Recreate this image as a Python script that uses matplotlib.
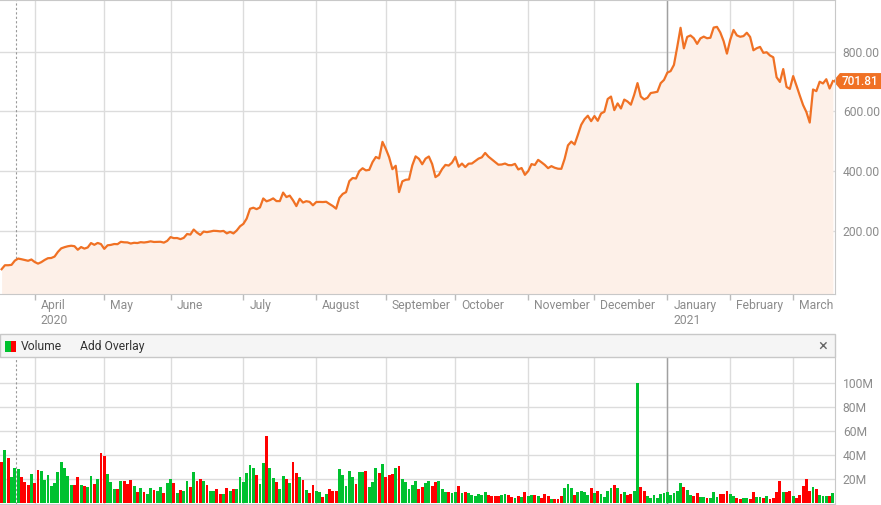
import numpy as np
import pandas as pd
import matplotlib
matplotlib.use("Agg")
import matplotlib.pyplot as plt
from matplotlib.patches import Rectangle, Polygon
from matplotlib.transforms import blended_transform_factory

plt.rcParams['font.family'] = ['Roboto', 'DejaVu Sans']

# trading days 2020-03-18 .. 2021-03-17
holidays = ['2020-04-10', '2020-05-25', '2020-07-03', '2020-09-07', '2020-11-26',
            '2020-12-25', '2021-01-01', '2021-01-18', '2021-02-15']
dates = pd.bdate_range('2020-03-18', '2021-03-17', freq='C', holidays=holidays)

# closing price, one value per trading day
close = [
    72.24, 85.53, 85.51, 86.86, 101.00, 107.85, 105.63, 102.87, 100.43, 104.80,
    96.31, 90.89, 96.00, 103.25, 109.09, 109.77, 114.60, 130.19, 141.98, 145.97, 149.04,
    150.78, 149.27, 137.34, 146.42, 141.13, 145.03, 159.75, 153.82, 160.10, 156.38,
    140.26, 152.24, 153.64, 156.52, 156.01, 163.88, 162.26, 161.88, 158.19, 160.67,
    159.83, 162.73, 161.60, 163.11, 165.52, 163.38, 163.77, 164.05, 161.16, 167.00,
    179.62, 176.31, 176.59, 172.88, 177.13, 189.98, 188.13, 205.01, 194.57, 187.06, 198.18,
    196.43, 198.36, 200.79, 200.18, 198.86, 200.36, 192.17, 197.20, 191.95, 201.87, 215.96,
    223.93, 241.73, 274.32, 277.97, 273.18, 278.86, 308.93, 299.41, 303.36, 309.20, 300.13,
    300.17, 328.60, 313.67, 318.47, 302.61, 283.40, 307.92, 295.30, 299.82, 297.50, 286.15,
    297.00, 297.40, 297.00, 297.92, 290.54, 283.71, 274.88, 310.95, 324.20, 330.14, 367.13,
    377.42, 375.71, 400.37, 409.99, 402.84, 404.67, 430.63, 447.75, 442.68, 498.32,
    475.05, 447.37, 407.00, 418.32, 330.21, 366.28, 371.34, 372.72, 419.62, 449.76, 441.76,
    423.43, 442.15, 449.39, 424.23, 380.36, 387.79, 407.34, 421.20, 419.07, 429.01,
    448.16, 415.09, 425.68, 413.98, 425.30, 425.92, 434.00, 442.30, 446.65, 461.30, 448.88,
    439.67, 430.83, 421.94, 422.64, 425.79, 420.63, 420.28, 424.68, 406.02, 410.83, 388.04,
    400.51, 423.90, 420.98, 438.09, 429.95, 421.26, 410.36, 417.13, 411.76, 408.50,
    408.09, 441.61, 486.64, 499.27, 489.61, 521.85, 555.38, 574.00, 585.76, 567.60,
    584.76, 568.82, 593.38, 599.04, 641.76, 649.88, 604.48, 627.07, 609.99, 639.83, 633.25,
    622.77, 655.90, 695.00, 649.86, 640.34, 645.98, 661.77, 663.69, 665.99, 694.78, 705.67,
    729.77, 735.11, 755.98, 816.04, 880.02, 811.19, 849.44, 854.41, 845.00, 826.16,
    844.55, 850.45, 844.99, 846.64, 880.80, 883.09, 864.16, 835.43, 793.53,
    839.81, 872.79, 854.69, 849.99, 852.23, 863.42, 849.46, 804.82, 811.66, 816.12,
    796.22, 798.15, 787.38, 781.30, 714.50, 698.84, 742.02, 682.22, 675.50,
    718.43, 686.44, 653.20, 621.44, 597.95, 563.00, 673.58, 668.06, 699.60, 693.73,
    707.94, 676.88, 701.81,
]

# volume in millions
volume = [
    34.2, 44.2, 37.5, 21.7, 29.2, 28.3, 21.7, 17.5, 15.0, 24.2,
    16.7, 27.5, 26.7, 19.2, 23.3, 14.2, 16.7, 25.8, 34.2, 29.2, 22.5,
    15.0, 15.0, 21.7, 15.0, 14.2, 13.3, 22.5, 15.8, 20.0, 41.7,
    39.2, 24.2, 17.5, 11.7, 11.7, 18.3, 18.3, 15.8, 19.2, 14.2,
    9.2, 12.5, 9.2, 7.5, 12.5, 10.8, 10.0, 13.3, 8.3, 16.7,
    20.0, 16.7, 8.3, 10.8, 10.0, 18.3, 13.3, 25.8, 18.3, 20.0, 18.3,
    15.0, 10.0, 10.0, 11.7, 7.5, 7.5, 12.5, 10.0, 11.7, 11.7, 21.7,
    17.5, 25.0, 31.7, 29.2, 23.3, 15.8, 33.3, 55.8, 29.2, 20.8, 17.5,
    11.7, 22.5, 20.0, 16.7, 34.2, 25.0, 21.7, 19.2, 10.8, 8.3, 15.0,
    10.0, 9.2, 5.0, 7.5, 11.7, 10.0, 10.0, 28.3, 23.3, 14.2, 26.7,
    21.7, 15.8, 25.8, 25.8, 26.7, 13.3, 17.5, 29.2, 25.0, 32.5,
    21.7, 23.3, 24.2, 29.2, 30.8, 20.0, 17.5, 11.7, 15.0, 18.3, 11.7,
    13.3, 16.7, 18.3, 14.2, 17.5, 18.3, 11.7, 9.2, 9.2, 8.3,
    9.2, 14.2, 8.3, 9.2, 8.3, 6.7, 5.8, 7.5, 6.7, 9.2, 6.7,
    5.8, 5.8, 5.8, 6.7, 7.5, 6.7, 5.0, 4.2, 5.8, 5.0, 9.2,
    5.8, 6.7, 6.7, 5.8, 4.2, 7.5, 5.8, 3.3, 3.3, 3.3,
    5.8, 12.5, 15.8, 12.5, 6.7, 9.2, 10.0, 9.2, 6.7, 12.5,
    8.3, 10.0, 7.5, 5.0, 10.0, 12.5, 15.0, 12.5, 7.5, 9.2, 6.7,
    7.5, 10.0, 100.0, 13.3, 10.0, 5.8, 4.2, 6.7, 4.2, 7.5, 8.3,
    9.2, 6.7, 8.3, 10.0, 16.7, 13.3, 10.8, 6.7, 5.8, 8.3,
    5.0, 5.0, 4.2, 4.2, 9.2, 5.0, 7.5, 7.5, 10.0,
    7.5, 5.8, 4.2, 3.3, 4.2, 4.2, 3.3, 9.2, 5.0, 5.0,
    4.2, 5.8, 3.3, 4.2, 9.2, 18.3, 9.2, 9.2, 10.0,
    5.8, 4.2, 6.7, 14.2, 20.0, 10.0, 13.3, 11.7, 6.7, 5.8,
    5.8, 5.8, 8.3,
]

# G = up day, R = down day (volume bar colour)
direction = ("RGRGGGRRRG"
             "RRGGGGGGGGGGRRGRGGRGR"
             "RGGGRGRRRGRGRGGRGGRG"
             "GRGRGGRGRRGRGGRRGRGRGG"
             "GGGGRGGRGGRGGRGRRGRGRR"
             "GGRGRRRGGGGGRGGRGGGRG"
             "RRRGRGGGGGRRGGRRGGGRG"
             "GRGRGGGGGGRRRRGGRRGRGR"
             "GGRGRRRGRRRGGGRGGGGR"
             "GRGGGGRGRGRRGGRRGGGGGG"
             "GGGGGRGGRRGGRGGGRRR"
             "GGRRGGRRGGRGRRRRGRR"
             "GRRRRRGRGGGRG")

price_ticks = [200, 400, 600, 800]
volume_ticks = [20, 40, 60, 80, 100]
last_price = close[-1]

W, H = 881, 505
fig = plt.figure(figsize=(W / 100, H / 100), dpi=100)


def fx(px):
    return px / W


def fy(py):
    return 1 - py / H


right_px = 834.5
ax1 = fig.add_axes([0, fy(294), fx(right_px), 294 / H])
ax2 = fig.add_axes([0, fy(504), fx(right_px), 147 / H])

x = np.arange(len(dates))
close = np.array(close)
volume = np.array(volume)

# first trading day of each month
month_pos = [i for i in range(1, len(dates)) if dates[i].month != dates[i - 1].month]
year_pos = [i for i in month_pos if dates[i].month == 1]
dotted_pos = 4.25

grid_c = '#dcdcdc'
text_c = '#8c8c8c'
line_c = '#f07124'
fs = 8.7
xlim = (-1.6 / 3.312, (right_px - 1.6) / 3.312)

# ---- price panel
ax1.fill_between(x, close, -50, color='#fdf0e8', lw=0)
ax1.plot(x, close, color=line_c, lw=1.6, solid_joinstyle='round')
ax1.set_xlim(*xlim)
ax1.set_ylim(-10.7, 973)
ax1.set_yticks(price_ticks)
ax1.yaxis.tick_right()
ax1.set_yticklabels([f'{v:.2f}' for v in price_ticks], color=text_c, fontsize=fs)
ax1.tick_params(axis='y', length=0, pad=6)
ax1.set_xticks(month_pos)
ax1.set_xticklabels([])
ax1.tick_params(axis='x', length=4, color='#bbbbbb', width=1)
ax1.grid(True, color=grid_c, lw=1)
ax1.set_axisbelow(True)
ax1.spines['left'].set_visible(False)
for s in ['top', 'right', 'bottom']:
    ax1.spines[s].set_color('#c8c8c8')
for p in year_pos:
    ax1.axvline(p, color='#a0a0a0', lw=1, zorder=0.6)
ax1.axvline(dotted_pos, color='#999999', lw=0.8, ls=(0, (2, 2)), zorder=0.6)

for p in month_pos:
    ax1.annotate(dates[p].strftime('%B'), xy=(p, 0), xycoords=('data', 'axes fraction'),
                 xytext=(6, -5), textcoords='offset pixels', ha='left', va='top',
                 fontsize=fs, color=text_c)
first_label = month_pos[0]
for p in [first_label] + year_pos:
    ax1.annotate(str(dates[p].year), xy=(p, 0), xycoords=('data', 'axes fraction'),
                 xytext=(6, -20), textcoords='offset pixels', ha='left', va='top',
                 fontsize=fs, color=text_c)

# last price tag
tr = blended_transform_factory(ax1.transAxes, ax1.transData)
hh = 8 / 0.2988
tag = Polygon([(0.9985, last_price), (1.0065, last_price + hh), (1.06, last_price + hh),
               (1.06, last_price - hh), (1.0065, last_price - hh)],
              closed=True, transform=tr, facecolor=line_c, edgecolor='none', clip_on=False)
ax1.add_patch(tag)
ax1.text(1.0085, last_price, f'{last_price:.2f}', transform=tr, color='white',
         fontsize=8.5, va='center', ha='left', fontweight='medium', clip_on=False)

# ---- volume panel
colors = ['#00c12f' if d == 'G' else '#ff0000' for d in direction]
ax2.bar(x, volume, width=0.86, color=colors, lw=0)
ax2.set_xlim(*xlim)
ax2.set_ylim(-0.58, 121.9)
ax2.set_yticks(volume_ticks)
ax2.yaxis.tick_right()
ax2.set_yticklabels([f'{v}M' for v in volume_ticks], color=text_c, fontsize=fs)
ax2.tick_params(axis='y', length=0, pad=6)
ax2.set_xticks(month_pos)
ax2.set_xticklabels([])
ax2.tick_params(axis='x', length=0)
ax2.grid(True, color=grid_c, lw=1)
ax2.set_axisbelow(True)
for s in ['left', 'top']:
    ax2.spines[s].set_visible(False)
for s in ['right', 'bottom']:
    ax2.spines[s].set_color('#c8c8c8')
for p in year_pos:
    ax2.axvline(p, color='#a0a0a0', lw=1, zorder=0.6)
ax2.axvline(dotted_pos, color='#999999', lw=0.8, ls=(0, (2, 2)), zorder=0.6)

# ---- volume header strip
fig.add_artist(Rectangle((0, fy(357)), fx(right_px), fy(334) - fy(357), transform=fig.transFigure,
                         facecolor='#f5f5f5', edgecolor='#c8c8c8', lw=1))
fig.add_artist(Rectangle((fx(5), fy(352)), fx(5.5), fy(341) - fy(352), transform=fig.transFigure,
                         facecolor='#00c12f', edgecolor='none'))
fig.add_artist(Rectangle((fx(10.5), fy(352)), fx(5.5), fy(341) - fy(352), transform=fig.transFigure,
                         facecolor='#ff0000', edgecolor='none'))
fig.text(fx(21), fy(346.5), 'Volume', fontsize=fs, color='#333333', va='center', ha='left')
fig.text(fx(80), fy(346.5), 'Add Overlay', fontsize=fs, color='#333333', va='center', ha='left')
fig.text(fx(823), fy(346), '×', fontsize=12, color='#666666', va='center', ha='center')

fig.savefig('out.png', dpi=100)
